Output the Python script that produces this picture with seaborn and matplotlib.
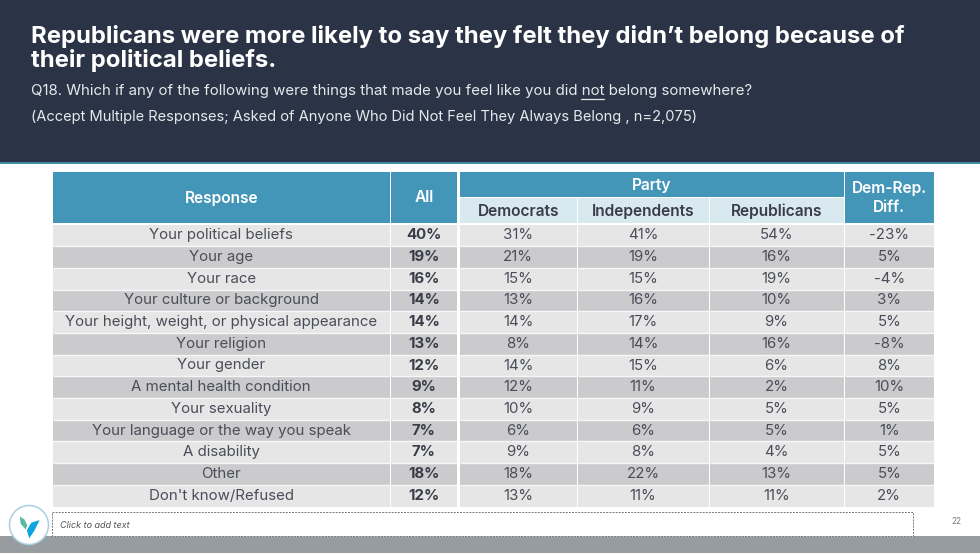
import numpy as np
import pandas as pd
import matplotlib
matplotlib.use("Agg")
import matplotlib.pyplot as plt
from matplotlib.colors import ListedColormap
from matplotlib.patches import Rectangle, Circle, Polygon
import seaborn as sns

sns.set_theme(style="white")
plt.rcParams['font.family'] = ['Inter', 'DejaVu Sans']

responses = ["Your political beliefs", "Your age", "Your race", "Your culture or background",
             "Your height, weight, or physical appearance", "Your religion", "Your gender",
             "A mental health condition", "Your sexuality", "Your language or the way you speak",
             "A disability", "Other", "Don't know/Refused"]
all_resp = [40, 19, 16, 14, 14, 13, 12, 9, 8, 7, 7, 18, 12]
democrats = [31, 21, 15, 13, 14, 8, 14, 12, 10, 6, 9, 18, 13]
independents = [41, 19, 15, 16, 17, 14, 15, 11, 9, 6, 8, 22, 11]
republicans = [54, 16, 19, 10, 9, 16, 6, 2, 5, 5, 4, 13, 11]
dem_rep_diff = [-23, 5, -4, 3, 5, -8, 8, 10, 5, 1, 5, 5, 2]

title = "Republicans were more likely to say they felt they didn\u2019t belong because of\ntheir political beliefs."
question = "Q18. Which if any of the following were things that made you feel like you did not belong somewhere?"
base_note = "(Accept Multiple Responses; Asked of Anyone Who Did Not Feel They Always Belong , n=2,075)"

W, H = 980, 554
NAVY = "#2b3446"
TEAL = "#4496b8"
PALE = "#d8e9f0"
INK = "#4a4d58"
stripes = ListedColormap(["#e6e6e6", "#cbcbcd"])

fig = plt.figure(figsize=(W / 100, H / 100), dpi=100, facecolor="white")
bg = fig.add_axes([0, 0, 1, 1])
bg.set_xlim(0, W)
bg.set_ylim(H, 0)
bg.axis("off")


def box(x0, y0, x1, y1, color):
    bg.add_patch(Rectangle((x0, y0), x1 - x0, y1 - y0, facecolor=color, edgecolor="none"))


# top band and footer
box(0, 0, W, 162, NAVY)
box(0, 162, W, 163.5, "#3f8fa6")
box(0, 536, W, 553, "#969c9f")
bg.text(31, 48.5, title, color="white", fontsize=17.2, fontweight="bold", va="center", linespacing=1.0)
bg.text(31, 91.5, question, color="#e6e8ec", fontsize=10.8, va="center")
bg.plot([581, 604], [99, 99], color="#e6e8ec", lw=0.9)
bg.text(31, 116.5, base_note, color="#e6e8ec", fontsize=10.55, va="center")

# header cells
for x0, x1, y0, y1, col, txt, tc in [
    (53, 389.5, 171.5, 222.5, TEAL, "Response", "white"),
    (390.5, 457, 171.5, 222.5, TEAL, "All", "white"),
    (460, 843.5, 171.5, 197, TEAL, "Party", "white"),
    (844.5, 934, 171.5, 222.5, TEAL, "Dem-Rep.\nDiff.", "white"),
    (460, 576.5, 198, 222.5, PALE, "Democrats", "#3a3d48"),
    (577.5, 708.5, 198, 222.5, PALE, "Independents", "#3a3d48"),
    (709.5, 843.5, 198, 222.5, PALE, "Republicans", "#3a3d48"),
]:
    box(x0, y0, x1, y1, col)
    bg.text((x0 + x1) / 2, (y0 + y1) / 2 + 1, txt, color=tc, fontsize=11.2, fontweight="semibold",
            ha="center", va="center", linespacing=1.3)

# table body, one heatmap per column because the widths differ
table = pd.DataFrame({"Response": responses, "All": all_resp, "Democrats": democrats,
                      "Independents": independents, "Republicans": republicans,
                      "Diff": dem_rep_diff})
columns = [("Response", 53, 389.5, "normal"), ("All", 390.5, 457, "bold"),
           ("Democrats", 460, 576.5, "normal"), ("Independents", 577.5, 708.5, "normal"),
           ("Republicans", 709.5, 843.5, "normal"), ("Diff", 844.5, 934, "normal")]
body_top, body_bot = 224.5, 506.5
band = (np.arange(len(table)) % 2).reshape(-1, 1)

for name, x0, x1, weight in columns:
    ax = fig.add_axes([x0 / W, 1 - body_bot / H, (x1 - x0) / W, (body_bot - body_top) / H])
    if name == "Response":
        labels = table[name].to_numpy().reshape(-1, 1)
    else:
        labels = table[name].map("{}%".format).to_numpy().reshape(-1, 1)
    sns.heatmap(band, ax=ax, cmap=stripes, vmin=0, vmax=1, cbar=False, annot=labels, fmt="",
                xticklabels=False, yticklabels=False,
                annot_kws={"color": "#3a3d48" if weight == "bold" else INK, "fontsize": 10.8,
                           "fontweight": weight})
    ax.hlines(np.arange(1, len(table)), 0, 1, color="#f7f7f7", lw=1)

# logo and footer placeholder
bg.add_patch(Rectangle((51.5, 512), 861, 24, facecolor="white", edgecolor="#777777", lw=0.7, ls=(0, (2, 1.2))))
bg.add_patch(Circle((29, 525), 19.5, facecolor="white", edgecolor="#a9cfe3", lw=1.1, zorder=5))
bg.add_patch(Polygon([(41, 519), (31, 522), (26, 530), (29, 540), (35, 531)], facecolor="#0ea5df", zorder=6))
bg.add_patch(Polygon([(19, 515), (20, 524), (26, 531), (28, 525), (25, 519)], facecolor="#58b8a4", zorder=6))
bg.text(59.5, 525.5, "Click to add text", color="#555555", fontsize=6.5, style="italic", va="center")
bg.text(956.5, 521.5, "22", color="#777777", fontsize=6, ha="center", va="center")

fig.savefig("out.png", dpi=100, facecolor="white")
